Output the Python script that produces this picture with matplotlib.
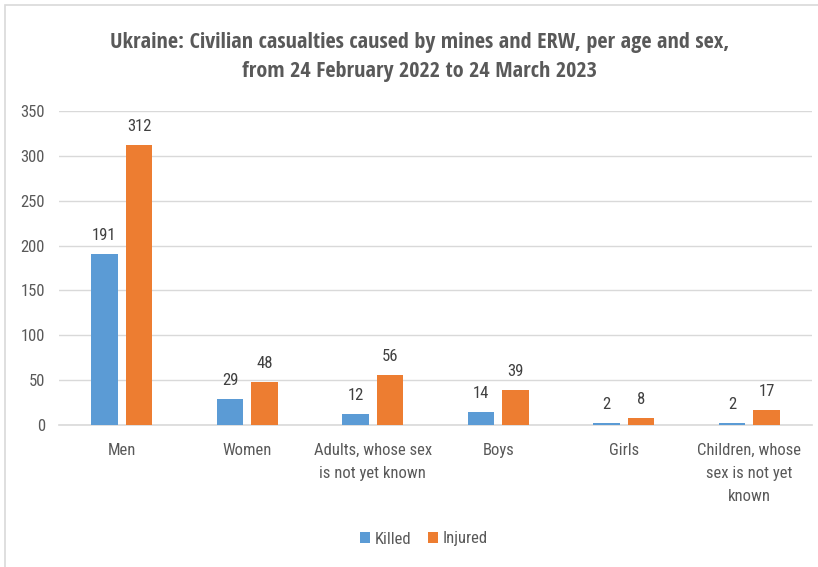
import matplotlib.pyplot as plt
from matplotlib.patches import Rectangle
from matplotlib import font_manager
import numpy as np

categories = ["Men", "Women", "Adults, whose sex\nis not yet known", "Boys", "Girls",
              "Children, whose\nsex is not yet\nknown"]
killed = [191, 29, 12, 14, 2, 2]
injured = [312, 48, 56, 39, 8, 17]

blue = "#5B9BD5"
orange = "#ED7D31"
grey = "#595959"

# Calibri-like narrow faces, whatever is installed
names = {f.name for f in font_manager.fontManager.ttflist}
body = [n for n in ["Roboto Condensed", "Fira Sans Condensed", "Asap Condensed",
                    "Archivo Narrow"] if n in names][:1] + ["DejaVu Sans"]
head = [n for n in ["Open Sans Condensed", "Asap Condensed"] if n in names][:1] + ["DejaVu Sans"]
plt.rcParams["font.family"] = body

fig = plt.figure(figsize=(8.18, 5.67), dpi=100)
ax = fig.add_axes([59 / 818, 1 - 425 / 567, (812 - 59) / 818, (425 - 111) / 567])

# chart border
fig.patches.append(Rectangle((5 / 818, -0.1), 1.2, 1 - 5 / 567 + 0.1, transform=fig.transFigure,
                             fill=False, edgecolor="#D9D9D9", linewidth=1.2))

x = np.arange(len(categories))
w = 0.215
off = 0.1375
b1 = ax.bar(x - off, killed, w, color=blue, label="Killed", zorder=3)
b2 = ax.bar(x + off, injured, w, color=orange, label="Injured", zorder=3)

for bars, vals in ((b1, killed), (b2, injured)):
    for b, v in zip(bars, vals):
        ax.annotate(str(v), (b.get_x() + b.get_width() / 2, v), xytext=(0, 8),
                    textcoords="offset points", ha="center", va="bottom",
                    fontsize=12, color="#404040")

ax.set_xlim(-0.5, len(categories) - 0.5)
ax.set_ylim(0, 350)
ax.set_yticks(range(0, 351, 50))
ax.grid(axis="y", color="#D9D9D9", linewidth=1, zorder=0)
for s in ("top", "right", "left"):
    ax.spines[s].set_visible(False)
ax.spines["bottom"].set_color("#D9D9D9")
ax.spines["bottom"].set_linewidth(1.2)
ax.tick_params(length=0, labelsize=12, labelcolor=grey)
ax.tick_params(axis="y", pad=10)
ax.tick_params(axis="x", pad=13)
ax.set_xticks(x)
ax.set_xticklabels(categories, linespacing=1.65)

fig.text(420 / 818, 1 - 57 / 567, "Ukraine: Civilian casualties caused by mines and ERW, per age and sex,\n"
         "from 24 February 2022 to 24 March 2023", ha="center", va="center",
         fontsize=16, color=grey, fontweight="bold", linespacing=1.55, family=head)

fig.legend(handles=[b1, b2], labels=["Killed", "Injured"], loc="center",
           bbox_to_anchor=(424 / 818, 1 - 539 / 567), ncol=2, frameon=False,
           fontsize=12, labelcolor=grey, handlelength=0.6, handleheight=0.6,
           handletextpad=0.3, columnspacing=1.0)

fig.savefig("out.png", dpi=100)
